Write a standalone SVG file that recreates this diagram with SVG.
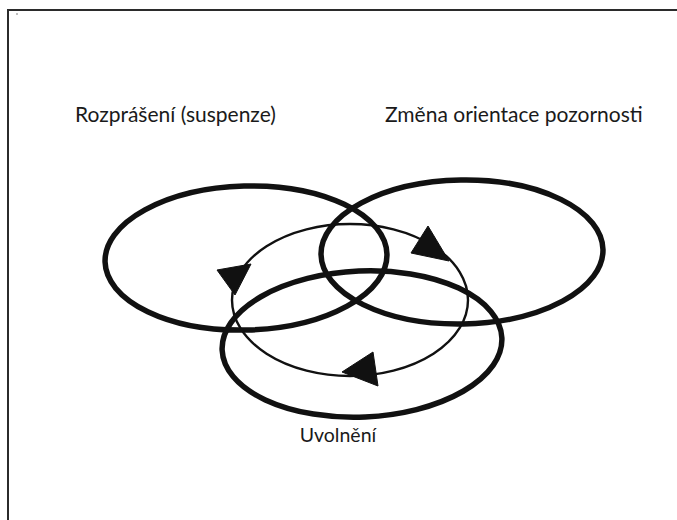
<svg xmlns="http://www.w3.org/2000/svg" width="677" height="520" viewBox="0 0 677 520">
  <style>
    .frame { fill: none; stroke: #2b2b2b; stroke-width: 2; }
    .ring { fill: none; stroke: #111; stroke-width: 5.5; }
    .cycle { fill: none; stroke: #111; stroke-width: 2.4; }
    .head { fill: #111; stroke: #111; stroke-width: 1; stroke-linejoin: round; }
    .label { font-family: Lato, "Liberation Sans", sans-serif; font-size: 21px; fill: #1a1a1a; }
    .small { font-size: 19.5px; }
  </style>
  <rect width="677" height="520" fill="#ffffff"/>
  <path class="frame" d="M8,521 L8,10 L678,10"/>
  <rect x="16.5" y="13.5" width="1" height="1" fill="#000"/>

  <g id="node-rozpraseni">
    <ellipse class="ring" cx="246" cy="258" rx="141" ry="72" transform="rotate(-1.6 246 258)"/>
    <text class="label" x="75" y="122">Rozprášení (suspenze)</text>
  </g>
  <g id="node-zmena">
    <ellipse class="ring" cx="462" cy="252" rx="141" ry="72" transform="rotate(-1 462 252)"/>
    <text class="label" x="385" y="122">Změna orientace pozornosti</text>
  </g>
  <g id="node-uvolneni">
    <ellipse class="ring" cx="362" cy="344" rx="140" ry="73" transform="rotate(-2.5 362 344)"/>
    <text class="label small" x="338" y="442" text-anchor="middle">Uvolnění</text>
  </g>

  <g id="connectors">
    <ellipse class="cycle" cx="350" cy="300" rx="118" ry="76"/>
    <polygon class="head" points="411,253 428,226 449,261"/>
    <polygon class="head" points="217,270 251,264 235,295"/>
    <polygon class="head" points="342,372 373,352 378,386"/>
  </g>
</svg>
